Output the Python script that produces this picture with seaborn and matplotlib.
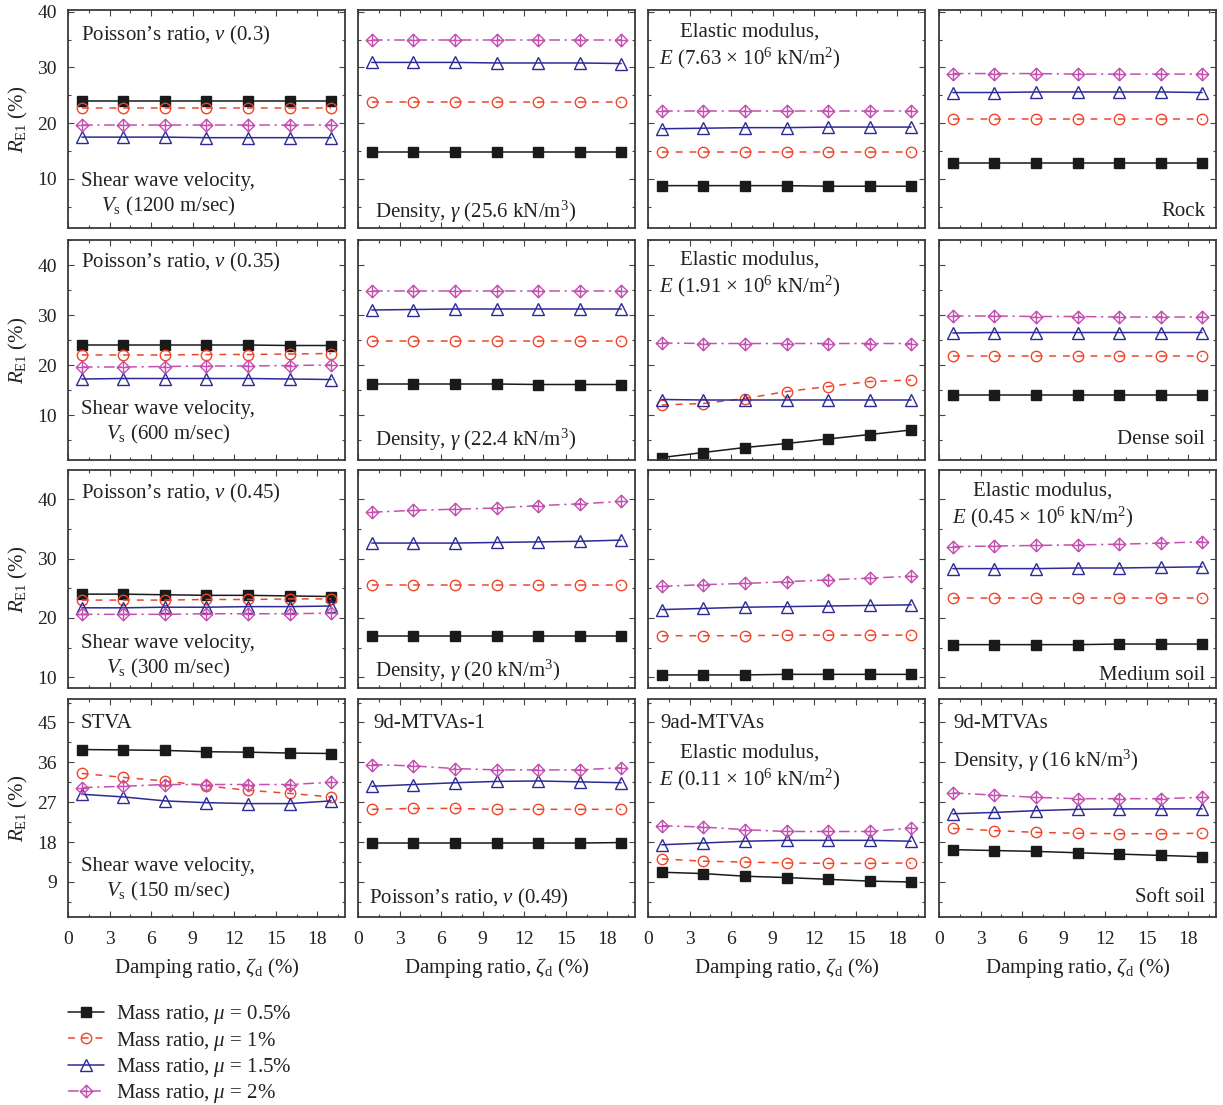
import matplotlib
matplotlib.use("Agg")
import matplotlib.pyplot as plt
from matplotlib.path import Path
from matplotlib.ticker import MultipleLocator
import seaborn as sns

# Damping ratio of the dampers (%)
damping = [1, 4, 7, 10, 13, 16, 19]

# R_E1 (%) for each panel; rows inside a panel: mu = 0.5 %, 1 %, 1.5 %, 2 %
vs1200 = [[23.9, 23.9, 23.9, 23.9, 23.9, 23.9, 23.9],
          [22.8, 22.8, 22.8, 22.8, 22.8, 22.8, 22.8],
          [17.5, 17.5, 17.5, 17.4, 17.4, 17.4, 17.4],
          [19.6, 19.6, 19.6, 19.6, 19.6, 19.6, 19.6]]
dens256 = [[14.9, 14.9, 14.9, 14.9, 14.9, 14.9, 14.9],
           [23.8, 23.8, 23.8, 23.8, 23.8, 23.8, 23.8],
           [30.9, 30.9, 30.9, 30.8, 30.8, 30.8, 30.7],
           [35.0, 35.0, 35.0, 35.0, 35.0, 35.0, 35.0]]
e763 = [[8.8, 8.8, 8.8, 8.8, 8.7, 8.7, 8.7],
        [14.9, 14.9, 14.9, 14.9, 14.9, 14.9, 14.9],
        [19.0, 19.1, 19.2, 19.2, 19.3, 19.3, 19.3],
        [22.2, 22.2, 22.2, 22.2, 22.2, 22.2, 22.2]]
rock = [[12.8, 12.8, 12.8, 12.8, 12.8, 12.8, 12.8],
        [20.7, 20.7, 20.7, 20.7, 20.7, 20.7, 20.7],
        [25.5, 25.5, 25.6, 25.6, 25.6, 25.6, 25.5],
        [28.9, 28.9, 28.9, 28.8, 28.8, 28.8, 28.8]]

vs600 = [[24.0, 24.0, 24.0, 24.0, 24.0, 23.9, 23.9],
         [22.0, 22.0, 22.0, 22.1, 22.1, 22.2, 22.3],
         [17.2, 17.3, 17.3, 17.3, 17.3, 17.2, 17.1],
         [19.6, 19.6, 19.7, 19.8, 19.8, 19.9, 20.0]]
dens224 = [[16.2, 16.2, 16.2, 16.2, 16.1, 16.1, 16.1],
           [24.8, 24.8, 24.8, 24.8, 24.8, 24.8, 24.8],
           [31.0, 31.1, 31.2, 31.2, 31.2, 31.2, 31.2],
           [34.8, 34.8, 34.8, 34.8, 34.8, 34.8, 34.8]]
e191 = [[1.5, 2.5, 3.5, 4.3, 5.2, 6.1, 7.0],
        [12.0, 12.3, 13.3, 14.7, 15.7, 16.7, 17.0],
        [13.1, 13.0, 13.0, 13.0, 13.0, 13.0, 13.0],
        [24.4, 24.3, 24.3, 24.3, 24.3, 24.3, 24.3]]
dense_soil = [[14.0, 14.0, 14.0, 14.0, 14.0, 14.0, 14.0],
              [21.8, 21.8, 21.8, 21.8, 21.8, 21.8, 21.8],
              [26.4, 26.5, 26.5, 26.5, 26.5, 26.5, 26.5],
              [29.8, 29.8, 29.7, 29.7, 29.6, 29.6, 29.6]]

vs300 = [[24.0, 24.0, 23.9, 23.8, 23.8, 23.7, 23.6],
         [23.0, 23.0, 23.0, 23.1, 23.1, 23.2, 23.2],
         [21.7, 21.7, 21.8, 21.8, 21.9, 21.9, 22.0],
         [20.6, 20.6, 20.6, 20.7, 20.7, 20.7, 20.8]]
dens20 = [[16.9, 16.9, 16.9, 16.9, 16.9, 16.9, 16.9],
          [25.5, 25.5, 25.5, 25.5, 25.5, 25.5, 25.5],
          [32.6, 32.6, 32.6, 32.7, 32.8, 32.9, 33.1],
          [37.8, 38.1, 38.3, 38.5, 38.9, 39.2, 39.6]]
poisson_mid = [[10.4, 10.4, 10.4, 10.5, 10.5, 10.5, 10.5],
               [17.0, 17.0, 17.0, 17.1, 17.1, 17.1, 17.1],
               [21.4, 21.6, 21.8, 21.9, 22.0, 22.1, 22.2],
               [25.3, 25.6, 25.8, 26.1, 26.4, 26.7, 27.0]]
medium_soil = [[15.5, 15.5, 15.5, 15.5, 15.6, 15.6, 15.6],
               [23.4, 23.4, 23.4, 23.4, 23.4, 23.4, 23.4],
               [28.3, 28.3, 28.3, 28.4, 28.4, 28.5, 28.6],
               [32.0, 32.1, 32.2, 32.3, 32.4, 32.6, 32.8]]

stva = [[38.9, 38.8, 38.7, 38.4, 38.3, 38.1, 38.0],
        [33.5, 32.6, 31.8, 30.7, 29.7, 29.0, 28.2],
        [28.8, 28.2, 27.3, 26.9, 26.7, 26.7, 27.3],
        [30.3, 30.6, 31.0, 31.0, 31.0, 31.0, 31.5]]
mtva_d1 = [[17.8, 17.8, 17.8, 17.8, 17.8, 17.8, 17.9],
           [25.4, 25.6, 25.6, 25.4, 25.4, 25.4, 25.4],
           [30.6, 31.0, 31.4, 31.7, 31.8, 31.6, 31.4],
           [35.5, 35.2, 34.6, 34.3, 34.3, 34.3, 34.8]]
mtva_ad = [[11.2, 10.9, 10.3, 10.0, 9.6, 9.2, 9.0],
           [14.2, 13.7, 13.5, 13.3, 13.2, 13.2, 13.3],
           [17.4, 17.8, 18.2, 18.4, 18.4, 18.4, 18.2],
           [21.7, 21.4, 20.8, 20.4, 20.4, 20.4, 21.2]]
soft_soil = [[16.3, 16.1, 15.9, 15.6, 15.3, 15.0, 14.7],
             [21.1, 20.6, 20.2, 20.0, 19.9, 19.9, 20.0],
             [24.4, 24.7, 25.1, 25.4, 25.5, 25.5, 25.5],
             [29.1, 28.6, 28.1, 27.8, 27.8, 27.8, 28.1]]

panels = [[vs1200, dens256, e763, rock],
          [vs600, dens224, e191, dense_soil],
          [vs300, dens20, poisson_mid, medium_soil],
          [stva, mtva_d1, mtva_ad, soft_soil]]

mass_labels = ["Mass ratio, $\\mu$ = 0.5%", "Mass ratio, $\\mu$ = 1%",
               "Mass ratio, $\\mu$ = 1.5%", "Mass ratio, $\\mu$ = 2%"]

# y-axis range and tick steps per row
row_ylim = [(1.2, 40.3), (1.0, 45.0), (8.2, 44.9), (1.1, 50.3)]
row_major = [10, 10, 10, 9]
row_minor = [5, 5, 5, 4.5]

# ---------------------------------------------------------------- style
sns.set_theme(style="ticks")
plt.rcParams["font.family"] = ["Liberation Serif", "DejaVu Serif"]
plt.rcParams["mathtext.fontset"] = "custom"
plt.rcParams["mathtext.rm"] = "Liberation Serif"
plt.rcParams["mathtext.it"] = "Liberation Serif:italic"
plt.rcParams["mathtext.bf"] = "Liberation Serif:bold"
TXT = "#222222"

# diamond with an inscribed cross
dp_path = Path([(0, 1), (1, 0), (0, -1), (-1, 0), (0, 0),
                (0, 1), (0, -1), (-1, 0), (1, 0)],
               [Path.MOVETO, Path.LINETO, Path.LINETO, Path.LINETO, Path.CLOSEPOLY,
                Path.MOVETO, Path.LINETO, Path.MOVETO, Path.LINETO])

series_style = [
    dict(color="#1a1a1a", marker="s", markersize=7, markerfacecolor="#1a1a1a",
         markeredgecolor="#1a1a1a", linestyle="-", linewidth=1.1),
    dict(color="#f0452a", marker="o", markersize=7.5, markerfacecolor="none",
         markeredgecolor="#f0452a", dashes=(4.5, 4.5), linewidth=1.1),
    dict(color="#2d2a96", marker="^", markersize=8.5, markerfacecolor="none",
         markeredgecolor="#2d2a96", linestyle="-", linewidth=1.1),
    dict(color="#c450b0", marker=dp_path, markersize=9, markerfacecolor="none",
         markeredgecolor="#c450b0", dashes=(7, 3, 1.5, 3), linewidth=1.1),
]

W, H = 1223, 1105
fig = plt.figure(figsize=(W / 100, H / 100), dpi=100)

col_x = [68, 358, 648, 939]
col_w = 277
row_y = [10, 240, 470, 699]
row_h = [218, 220, 218, 218]

axes = [[None] * 4 for _ in range(4)]
for r in range(4):
    for c in range(4):
        x0, y0, h = col_x[c], row_y[r], row_h[r]
        ax = fig.add_axes([x0 / W, 1 - (y0 + h) / H, col_w / W, h / H])
        axes[r][c] = ax
        for k, vals in enumerate(panels[r][c]):
            sns.lineplot(x=damping, y=vals, ax=ax, label=mass_labels[k],
                         markeredgewidth=1.0, **series_style[k])
        if ax.get_legend() is not None:
            ax.get_legend().remove()
        ax.set_xlim(0, 20)
        ax.set_ylim(*row_ylim[r])
        ax.xaxis.set_major_locator(MultipleLocator(3))
        ax.xaxis.set_minor_locator(MultipleLocator(1.5))
        ax.yaxis.set_major_locator(MultipleLocator(row_major[r]))
        ax.yaxis.set_minor_locator(MultipleLocator(row_minor[r]))
        ax.tick_params(which="both", direction="in", top=True, right=True,
                       colors="#444444", labelcolor=TXT, labelsize=14, width=0.8)
        ax.tick_params(which="major", length=4)
        ax.tick_params(which="minor", length=2.5)
        ax.tick_params(axis="x", which="major", pad=10)
        ax.tick_params(axis="y", which="major", pad=8)
        for s in ax.spines.values():
            s.set_color("#3a3a3a")
            s.set_linewidth(1.3)
        ax.set_xlabel("")
        ax.set_ylabel("")
        if c > 0:
            ax.tick_params(labelleft=False)
        else:
            ax.set_ylabel("$R_{\\mathrm{E1}}$ (%)", fontsize=15, color=TXT, labelpad=5)
        if r < 3:
            ax.tick_params(labelbottom=False)
        else:
            ax.set_xlabel("Damping ratio, $\\zeta_{\\mathrm{d}}$ (%)", fontsize=15,
                          color=TXT, labelpad=6)


def note(x, y, s, ha="left"):
    fig.text(x / W, 1 - (y + 3) / H, s, ha=ha, va="center", fontsize=15, color=TXT,
             multialignment="center")


# Row 1
note(81, 32, "Poisson’s ratio, $\\nu$ (0.3)")
note(81, 192, "Shear wave velocity,\n$V_{\\mathrm{s}}$ (1200 m/sec)")
note(375, 209, "Density, $\\gamma$ (25.6 kN/m$^3$)")
note(659, 44, "Elastic modulus,\n$E$ (7.63 × 10$^6$ kN/m$^2$)")
note(1205, 209, "Rock", ha="right")
# Row 2
note(81, 259, "Poisson’s ratio, $\\nu$ (0.35)")
note(81, 420, "Shear wave velocity,\n$V_{\\mathrm{s}}$ (600 m/sec)")
note(375, 437, "Density, $\\gamma$ (22.4 kN/m$^3$)")
note(659, 272, "Elastic modulus,\n$E$ (1.91 × 10$^6$ kN/m$^2$)")
note(1205, 437, "Dense soil", ha="right")
# Row 3
note(81, 490, "Poisson’s ratio, $\\nu$ (0.45)")
note(81, 654, "Shear wave velocity,\n$V_{\\mathrm{s}}$ (300 m/sec)")
note(375, 668, "Density, $\\gamma$ (20 kN/m$^3$)")
note(952, 503, "Elastic modulus,\n$E$ (0.45 × 10$^6$ kN/m$^2$)")
note(1205, 672, "Medium soil", ha="right")
# Row 4
note(81, 721, "STVA")
note(81, 877, "Shear wave velocity,\n$V_{\\mathrm{s}}$ (150 m/sec)")
note(373, 721, "9d-MTVAs-1")
note(369, 895, "Poisson’s ratio, $\\nu$ (0.49)")
note(660, 721, "9ad-MTVAs")
note(659, 765, "Elastic modulus,\n$E$ (0.11 × 10$^6$ kN/m$^2$)")
note(953, 721, "9d-MTVAs")
note(953, 758, "Density, $\\gamma$ (16 kN/m$^3$)")
note(1205, 895, "Soft soil", ha="right")

handles = axes[0][0].get_lines()[:4]
fig.legend(handles, mass_labels, loc="upper left",
           bbox_to_anchor=(60 / W, 1 - 995 / H), frameon=False, fontsize=15,
           handlelength=1.7, handletextpad=0.6, labelspacing=0.16,
           borderaxespad=0, labelcolor=TXT)

fig.savefig("out.png", dpi=100)
